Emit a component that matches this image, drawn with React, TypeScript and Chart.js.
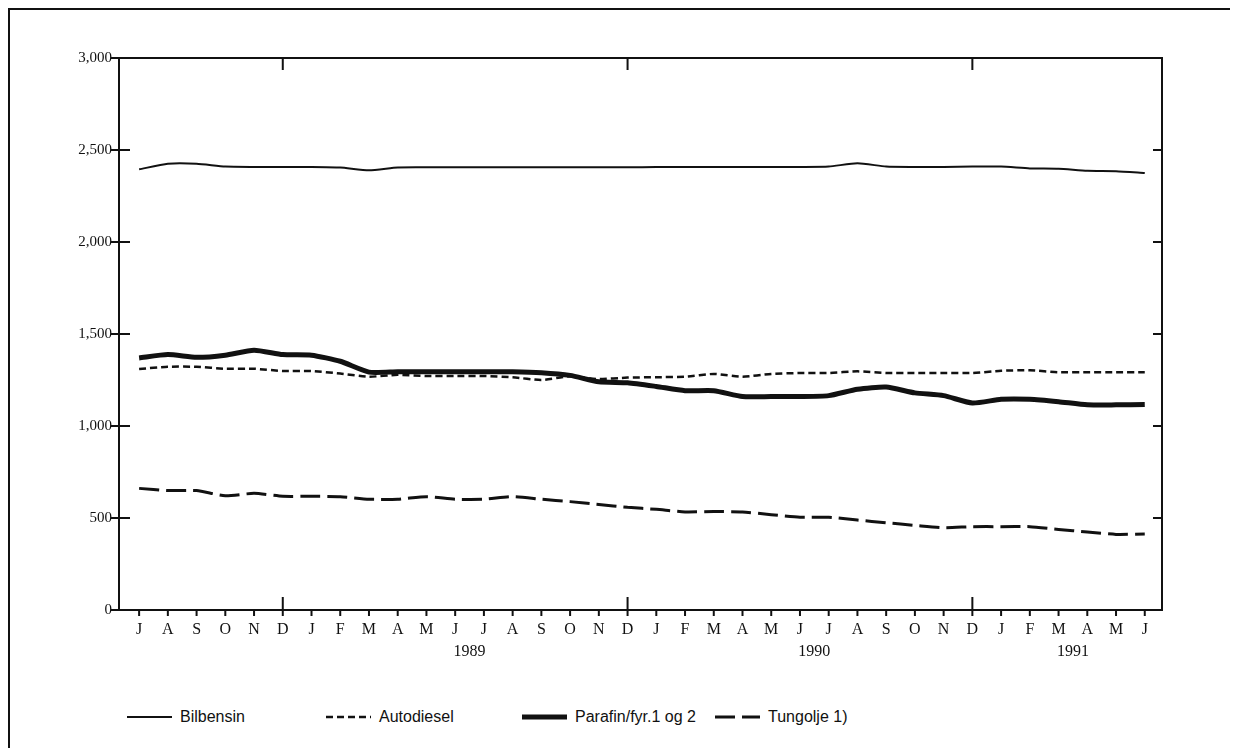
import React, { useEffect, useRef } from 'react';
import { Chart, registerables } from 'chart.js';

Chart.register(...registerables);

// ---- data ----
const months = ['J','A','S','O','N','D','J','F','M','A','M','J','J','A','S','O','N','D','J','F','M','A','M','J','J','A','S','O','N','D','J','F','M','A','M','J'];
const yearLabels = ['1989', '1990', '1991'];
const yearCenters = [11.5, 23.5, 32.5];

const bilbensin = [2395,2425,2425,2410,2408,2408,2408,2405,2390,2405,2406,2406,2406,2406,2406,2406,2406,2406,2407,2407,2407,2407,2408,2408,2410,2428,2410,2408,2408,2410,2410,2400,2398,2387,2385,2375];
const autodiesel = [1310,1322,1322,1311,1311,1299,1299,1285,1268,1278,1272,1272,1272,1265,1250,1270,1255,1263,1265,1268,1283,1268,1283,1288,1288,1297,1288,1288,1288,1288,1300,1303,1292,1292,1292,1292];
const parafin = [1370,1388,1373,1385,1412,1388,1385,1352,1293,1295,1295,1295,1295,1295,1290,1275,1240,1235,1215,1192,1192,1160,1160,1160,1165,1200,1212,1180,1165,1125,1145,1145,1132,1115,1115,1117];
const tungolje = [661,649,649,621,634,618,618,616,602,602,616,602,602,616,602,589,574,558,547,533,535,533,518,504,504,489,474,460,447,453,453,453,438,424,411,413];

const seriesLabels = ['Bilbensin', 'Autodiesel', 'Parafin/fyr.1 og 2', 'Tungolje 1)'];
const seriesData = [bilbensin, autodiesel, parafin, tungolje];

// ---- styles ----
const seriesStyle = [
  { width: 2, dash: [] as number[] },
  { width: 2.5, dash: [7, 4] },
  { width: 5, dash: [] as number[] },
  { width: 3, dash: [20, 7] },
];
const legendLeft = [119, 318, 514, 707];
const INK = '#111';
const SERIF = '"Liberation Serif", "Times New Roman", serif';

const framePlugin = {
  id: 'frame',
  afterDraw(chart: any) {
    const { ctx, chartArea: a, scales } = chart;
    const x = scales.x;
    const y = scales.y;
    ctx.save();
    ctx.strokeStyle = INK;
    ctx.lineWidth = 2;
    ctx.strokeRect(a.left, a.top, a.right - a.left, a.bottom - a.top);
    ctx.beginPath();
    y.ticks.forEach((t: any) => {
      const py = y.getPixelForValue(t.value);
      ctx.moveTo(a.left - 8, py);
      ctx.lineTo(a.left + 11, py);
      ctx.moveTo(a.right - 9, py);
      ctx.lineTo(a.right, py);
    });
    months.forEach((m, i) => {
      const px = x.getPixelForValue(i);
      ctx.moveTo(px, a.bottom);
      ctx.lineTo(px, a.bottom + 6);
      if (m === 'D') {
        ctx.moveTo(px, a.bottom - 13);
        ctx.lineTo(px, a.bottom);
        ctx.moveTo(px, a.top);
        ctx.lineTo(px, a.top + 12);
      }
    });
    ctx.stroke();
    ctx.fillStyle = INK;
    ctx.font = `16px ${SERIF}`;
    ctx.textAlign = 'center';
    ctx.textBaseline = 'middle';
    yearLabels.forEach((l, i) => {
      ctx.fillText(l, x.getPixelForValue(yearCenters[i]), a.bottom + 42);
    });
    ctx.restore();
  },
};

export default function App() {
  const ref = useRef<HTMLCanvasElement | null>(null);

  useEffect(() => {
    if (!ref.current) return;
    const chart = new Chart(ref.current, {
      type: 'line',
      data: {
        datasets: seriesData.map((d, i) => ({
          label: seriesLabels[i],
          data: d.map((v, j) => ({ x: j, y: v })),
          borderColor: INK,
          borderWidth: seriesStyle[i].width,
          borderDash: seriesStyle[i].dash,
          pointRadius: 0,
          tension: 0.2,
          fill: false,
        })),
      },
      options: {
        animation: false,
        responsive: false,
        devicePixelRatio: 1,
        layout: { padding: { top: 50, right: 76, bottom: 18, left: 0 } },
        plugins: { legend: { display: false }, tooltip: { enabled: false } },
        scales: {
          x: {
            type: 'linear',
            min: -0.7,
            max: 35.6,
            grid: { display: false, drawTicks: false },
            border: { display: false },
            afterBuildTicks: (s: any) => {
              s.ticks = months.map((_, i) => ({ value: i }));
            },
            afterFit: (s: any) => {
              s.height = 60;
            },
            ticks: {
              autoSkip: false,
              maxRotation: 0,
              padding: 10,
              color: INK,
              font: { family: SERIF, size: 16 },
              callback: (v: any) => months[Math.round(Number(v))] ?? '',
            },
          },
          y: {
            min: 0,
            max: 3000,
            grid: { display: false, drawTicks: false },
            border: { display: false },
            afterFit: (s: any) => {
              s.width = 111;
            },
            ticks: {
              stepSize: 500,
              padding: 7,
              color: INK,
              font: { family: SERIF, size: 15 },
              callback: (v: any) => Number(v).toLocaleString('en-US'),
            },
          },
        },
      },
      plugins: [framePlugin],
    });
    return () => chart.destroy();
  }, []);

  return (
    <div style={{ position: 'relative', width: 1230, height: 740 }}>
      <div
        style={{
          position: 'absolute',
          left: 0,
          top: 0,
          width: 1230,
          height: 740,
          borderLeft: `2px solid ${INK}`,
          borderTop: `2px solid ${INK}`,
          boxSizing: 'border-box',
        }}
      />
      <canvas
        ref={ref}
        width={1230}
        height={680}
        style={{ position: 'absolute', left: 0, top: 0, width: 1230, height: 680 }}
      />
      {seriesLabels.map((l, i) => (
        <div
          key={l}
          style={{
            position: 'absolute',
            left: legendLeft[i],
            top: 700,
            height: 18,
            display: 'flex',
            alignItems: 'center',
            fontFamily: '"Liberation Sans", Arial, sans-serif',
            fontSize: 16,
            color: INK,
            whiteSpace: 'nowrap',
          }}
        >
          <svg width={45} height={10} style={{ marginRight: 8 }}>
            <line
              x1={0}
              y1={5}
              x2={45}
              y2={5}
              stroke={INK}
              strokeWidth={seriesStyle[i].width}
              strokeDasharray={seriesStyle[i].dash.join(' ')}
            />
          </svg>
          {l}
        </div>
      ))}
    </div>
  );
}
